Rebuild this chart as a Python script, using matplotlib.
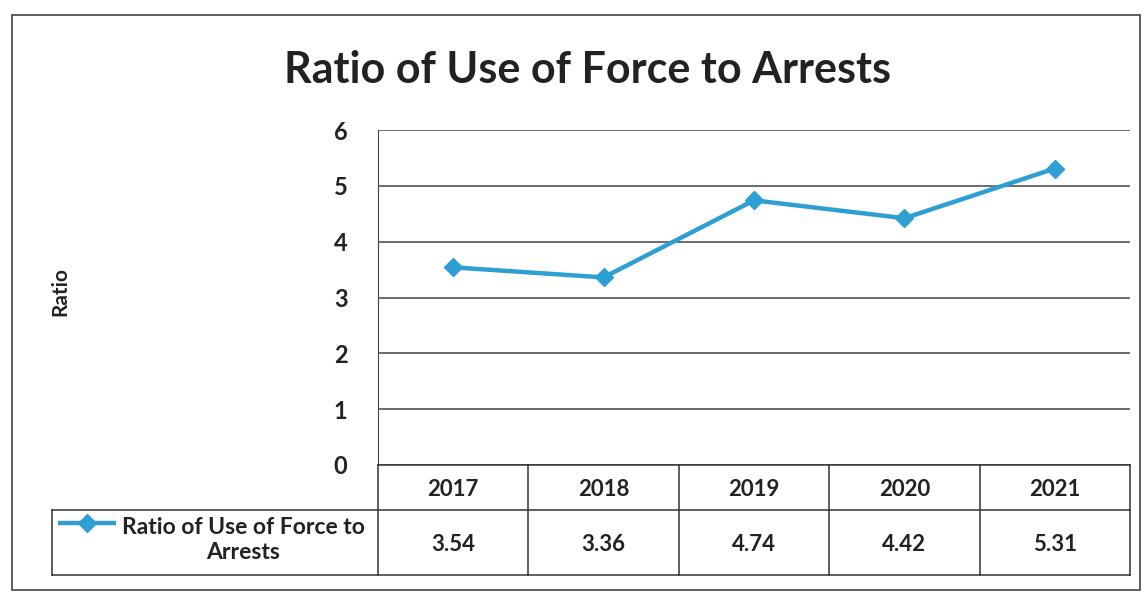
import matplotlib.pyplot as plt
from matplotlib.lines import Line2D
from matplotlib.patches import Rectangle

years = ["2017", "2018", "2019", "2020", "2021"]
ratios = [3.54, 3.36, 4.74, 4.42, 5.31]
series_name = "Ratio of Use of Force to\nArrests"
title = "Ratio of Use of Force to Arrests"

W, H = 1144, 595
plt.rcParams['font.family'] = ['Lato', 'DejaVu Sans']
line_color = "#2E9FD3"
grid_color = "#444444"

fig = plt.figure(figsize=(W / 100, H / 100), dpi=100)


def fx(px):
    return px / W


def fy(py):
    return 1 - py / H


# outer chart frame
fig.add_artist(Rectangle((fx(12), fy(590)), fx(1128), 575 / H, transform=fig.transFigure,
                         fill=False, edgecolor="#444444", linewidth=1.2))

fig.text(fx(587), fy(70), title, ha="center", va="center", fontsize=31, fontweight="bold",
         color="#222222")

# plot area
left, right, top, bottom = 378, 1130, 130, 465
ax = fig.add_axes([fx(left), fy(bottom), fx(right - left), (bottom - top) / H])
x = list(range(len(years)))
ax.plot(x, ratios, color=line_color, linewidth=3.2, marker="D", markersize=9,
        markerfacecolor=line_color, markeredgecolor=line_color)
ax.set_xlim(-0.5, len(years) - 0.5)
ax.set_ylim(0, 6)
ax.set_yticks(range(0, 7))
ax.yaxis.grid(True, color=grid_color, linewidth=1.1)
ax.set_axisbelow(True)
ax.set_xticks([])
for s in ["top", "right", "bottom"]:
    ax.spines[s].set_visible(False)
ax.spines["left"].set_color(grid_color)
ax.tick_params(axis="y", length=0, pad=22, labelsize=17, labelcolor="#222222")
for lab in ax.get_yticklabels():
    lab.set_fontweight("bold")
fig.text(fx(60), fy(292), "Ratio", rotation=90, ha="center", va="center",
         fontsize=15, fontweight="bold", color="#222222")

# data table under the plot
row1_top, row1_bot, row2_bot = 465, 510, 575
legend_left = 52
col_w = (right - left) / len(years)
tbl_lines = [
    ((left, right), (row1_top, row1_top)),
    ((legend_left, right), (row1_bot, row1_bot)),
    ((legend_left, right), (row2_bot, row2_bot)),
    ((legend_left, legend_left), (row1_bot, row2_bot)),
    ((right, right), (row1_top, row2_bot)),
]
for i in range(len(years)):
    cx = left + i * col_w
    tbl_lines.append(((cx, cx), (row1_top, row2_bot)))
for (x0, x1), (y0, y1) in tbl_lines:
    fig.add_artist(Line2D([fx(x0), fx(x1)], [fy(y0), fy(y1)], transform=fig.transFigure,
                          color="#333333", linewidth=1.1))

for i, (yr, val) in enumerate(zip(years, ratios)):
    cx = left + (i + 0.5) * col_w
    fig.text(fx(cx), fy((row1_top + row1_bot) / 2 + 2), yr, ha="center", va="center",
             fontsize=16, fontweight="bold", color="#222222")
    fig.text(fx(cx), fy((row1_bot + row2_bot) / 2 + 2), f"{val:.2f}", ha="center", va="center",
             fontsize=16, fontweight="bold", color="#222222")

# legend key inside the first table cell
fig.add_artist(Line2D([fx(58), fx(116)], [fy(523), fy(523)], transform=fig.transFigure,
                      color=line_color, linewidth=3.2, solid_capstyle="butt"))
fig.add_artist(Line2D([fx(87)], [fy(523)], transform=fig.transFigure, color=line_color,
                      marker="D", markersize=9, linestyle="none"))
fig.text(fx(243), fy(540), series_name, ha="center", va="center", fontsize=16.5,
         fontweight="bold", color="#222222", linespacing=1.2)

fig.savefig("out.png", dpi=100, facecolor="white")
